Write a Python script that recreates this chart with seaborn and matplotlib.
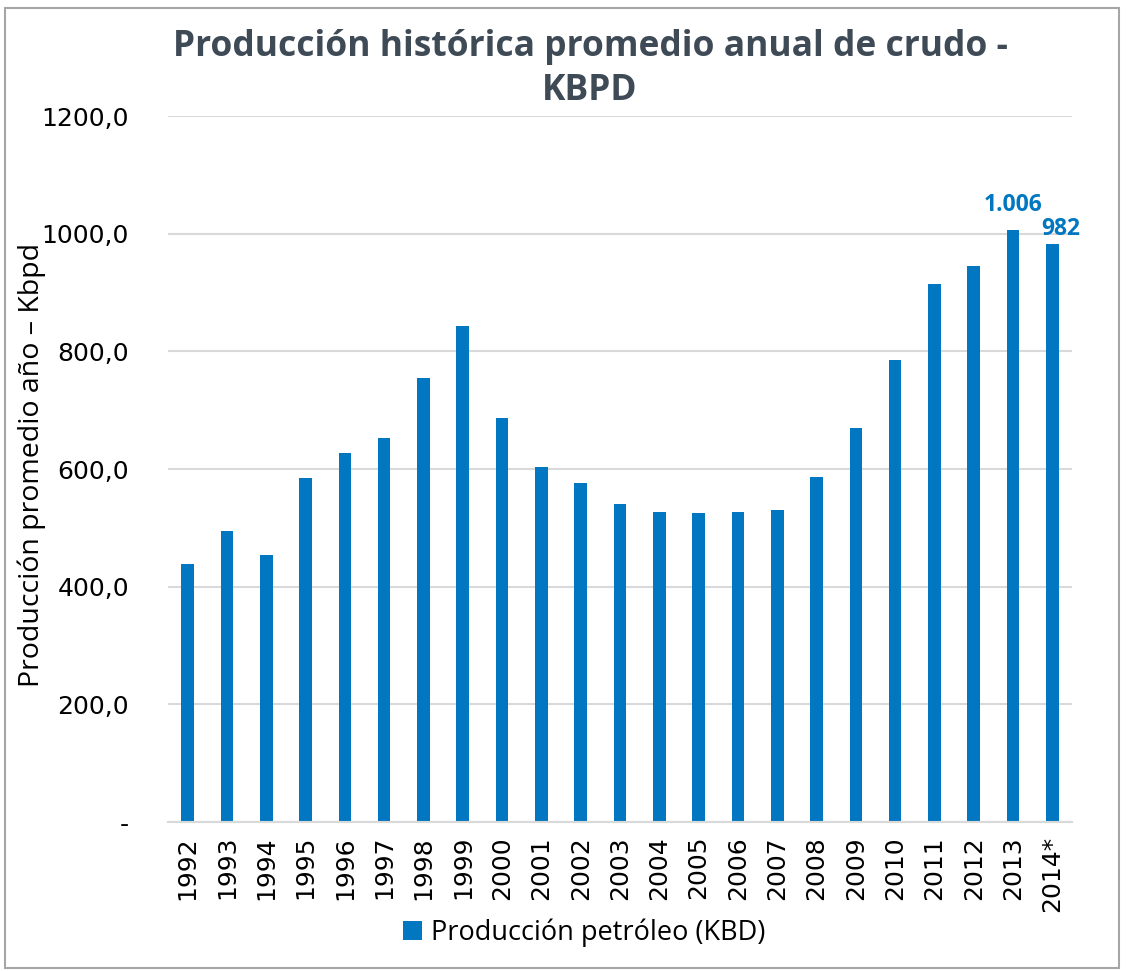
import matplotlib
matplotlib.use("Agg")
import matplotlib.pyplot as plt
import seaborn as sns
import pandas as pd
from matplotlib.ticker import FuncFormatter, FixedLocator
from matplotlib.patches import Rectangle

years = ["1992", "1993", "1994", "1995", "1996", "1997", "1998", "1999", "2000", "2001",
         "2002", "2003", "2004", "2005", "2006", "2007", "2008", "2009", "2010", "2011",
         "2012", "2013", "2014*"]
production = [438, 495, 453, 585, 627, 652, 755, 843, 687, 603,
              576, 540, 527, 525, 527, 530, 587, 670, 786, 915,
              945, 1006, 982]
label_years = ["2013", "2014*"]
label_texts = ["1.006", "982"]
series_name = "Producción petróleo (KBD)"
title = "Producción histórica promedio anual de crudo -\nKBPD"
ylabel = "Producción promedio año – Kbpd"
yticks = [0, 200, 400, 600, 800, 1000, 1200]

BLUE = "#0077C0"
GRID = "#D9D9D9"
TITLE_C = "#3E4A56"

sns.set_theme(style="white")
plt.rcParams["font.family"] = ["DejaVu Sans"]
plt.rcParams["text.color"] = "black"
plt.rcParams["axes.labelcolor"] = "black"

df = pd.DataFrame({"year": years, "value": production})

fig = plt.figure(figsize=(11.26, 9.71), dpi=100)
ax = fig.add_axes([168 / 1126, 1 - 822 / 971, (1072 - 168) / 1126, (822 - 116) / 971])

sns.barplot(data=df, x="year", y="value", color=BLUE, width=0.32, ax=ax,
            label=series_name, saturation=1, edgecolor="none")

ax.set_ylim(0, 1200)
ax.set_xlim(-0.5, len(years) - 0.5)
ax.yaxis.set_major_locator(FixedLocator(yticks))
ax.yaxis.set_major_formatter(FuncFormatter(
    lambda v, p: "-" if v == 0 else f"{v:.1f}".replace(".", ",")))
ax.grid(axis="y", color=GRID, linewidth=1.5)
ax.set_axisbelow(True)
for s in ["top", "right", "left"]:
    ax.spines[s].set_visible(False)
ax.spines["bottom"].set_color(GRID)
ax.spines["bottom"].set_linewidth(1.5)
ax.tick_params(axis="both", length=0, labelsize=18, colors="black")
ax.tick_params(axis="y", pad=28)
ax.tick_params(axis="x", pad=10)
for t in ax.get_xticklabels():
    t.set_rotation(90)
ax.set_xlabel("")
ax.set_ylabel(ylabel, fontsize=20.5, family=["Open Sans", "DejaVu Sans"], color="black")
ax.yaxis.set_label_coords(-(168 - 46) / 904, 0.5 + (469 - 465) / 706)

# data labels
offsets = {"2013": (0, 10), "2014*": (8, 0)}
for yr, txt in zip(label_years, label_texts):
    i = years.index(yr)
    v = production[i]
    dx, dy = offsets[yr]
    ax.annotate(txt, (i, v), xytext=(dx * 0.72, dy * 0.72 + 2), textcoords="offset points",
                ha="center", va="bottom", fontsize=16.5, fontweight="bold",
                color=BLUE, family=["Open Sans", "DejaVu Sans"])

fig.text(590 / 1126, 1 - 69 / 971, title, ha="center", va="center", fontsize=25.5,
         fontweight="bold", color=TITLE_C, family=["Open Sans", "DejaVu Sans"],
         linespacing=1.3)

leg = ax.legend(loc="center", bbox_to_anchor=(584 / 1126, 1 - 933 / 971),
                bbox_transform=fig.transFigure, frameon=False, handlelength=0.7,
                handleheight=0.7, handletextpad=0.35,
                prop={"family": ["Open Sans", "DejaVu Sans"], "size": 19.5})
for t in leg.get_texts():
    t.set_color("black")

fig.patches.append(Rectangle((5 / 1126, 1 - 968 / 971), (1119 - 5) / 1126, (968 - 8) / 971,
                             transform=fig.transFigure, fill=False, edgecolor="#A6A6A6",
                             linewidth=1.5))

fig.savefig("out.png", dpi=100)
